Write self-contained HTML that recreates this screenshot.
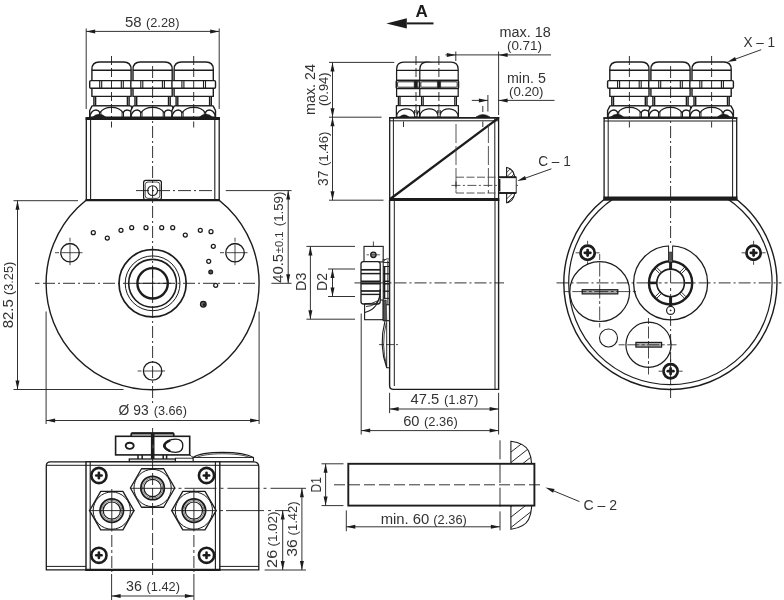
<!DOCTYPE html>
<html lang="en">
<head>
<meta charset="utf-8">
<title>Dimensional drawing</title>
<style>
html,body{margin:0;padding:0;background:#fff;}
body{width:784px;height:600px;overflow:hidden;font-family:"Liberation Sans",sans-serif;}
svg{display:block;font-family:"Liberation Sans",sans-serif;}
</style>
</head>
<body>
<svg width="784" height="600" viewBox="0 0 784 600">
<defs><filter id="soft" x="0" y="0" width="784" height="600" filterUnits="userSpaceOnUse"><feGaussianBlur stdDeviation="0.38"/></filter></defs>
<rect x="0" y="0" width="784" height="600" fill="#fff"/>
<g filter="url(#soft)">
<rect x="0" y="0" width="784" height="600" fill="#fff"/>
<circle cx="152.60" cy="283.30" r="106.50" fill="#fff" stroke="#1c1c1c" stroke-width="1.4"/>
<g transform="translate(111.50,0)" stroke="#1c1c1c" fill="#fff" stroke-width="1.4" stroke-linejoin="round">
<rect x="-17.6" y="96.3" width="35.2" height="9.6"/>
<line x1="-15.9" y1="96.3" x2="-15.9" y2="105.9"/><line x1="15.9" y1="96.3" x2="15.9" y2="105.9"/>
<rect x="-19.6" y="88.2" width="39.2" height="8.2"/>
<path d="M-19.6,80.6 V69.4 Q-19.6,62 -12.2,62 H12.2 Q19.6,62 19.6,69.4 V80.6 Z"/>
<line x1="-19.6" y1="70.2" x2="19.6" y2="70.2"/>
<rect x="-21.8" y="80.6" width="43.6" height="7.6" rx="1.2"/>
<line x1="-11.8" y1="80.6" x2="-11.8" y2="88.2" stroke-width="1.1"/>
<line x1="-9.8" y1="80.6" x2="-9.8" y2="88.2" stroke-width="1.1"/>
<line x1="9.8" y1="80.6" x2="9.8" y2="88.2" stroke-width="1.1"/>
<line x1="11.8" y1="80.6" x2="11.8" y2="88.2" stroke-width="1.1"/>
<path d="M-19.4,105.9 H19.4 L21.8,110.5 V117.2 H-21.8 V110.5 Z"/>
<path d="M-21.8,117 C-20.5,110 -14.5,108 -11.5,112.6 C-7,105.6 7,105.6 11.5,112.6 C14.5,108 20.5,110 21.8,117" fill="none"/>
<line x1="-12" y1="112.2" x2="-12" y2="117.2" stroke-width="1"/><line x1="-10.6" y1="112.2" x2="-10.6" y2="117.2" stroke-width="1"/>
<line x1="12" y1="112.2" x2="12" y2="117.2" stroke-width="1"/><line x1="10.6" y1="112.2" x2="10.6" y2="117.2" stroke-width="1"/>
</g>
<g transform="translate(152.60,0)" stroke="#1c1c1c" fill="#fff" stroke-width="1.4" stroke-linejoin="round">
<rect x="-17.6" y="96.3" width="35.2" height="9.6"/>
<line x1="-15.9" y1="96.3" x2="-15.9" y2="105.9"/><line x1="15.9" y1="96.3" x2="15.9" y2="105.9"/>
<rect x="-19.6" y="88.2" width="39.2" height="8.2"/>
<path d="M-19.6,80.6 V69.4 Q-19.6,62 -12.2,62 H12.2 Q19.6,62 19.6,69.4 V80.6 Z"/>
<line x1="-19.6" y1="70.2" x2="19.6" y2="70.2"/>
<rect x="-21.8" y="80.6" width="43.6" height="7.6" rx="1.2"/>
<line x1="-11.8" y1="80.6" x2="-11.8" y2="88.2" stroke-width="1.1"/>
<line x1="-9.8" y1="80.6" x2="-9.8" y2="88.2" stroke-width="1.1"/>
<line x1="9.8" y1="80.6" x2="9.8" y2="88.2" stroke-width="1.1"/>
<line x1="11.8" y1="80.6" x2="11.8" y2="88.2" stroke-width="1.1"/>
<path d="M-19.4,105.9 H19.4 L21.8,110.5 V117.2 H-21.8 V110.5 Z"/>
<path d="M-21.8,117 C-20.5,110 -14.5,108 -11.5,112.6 C-7,105.6 7,105.6 11.5,112.6 C14.5,108 20.5,110 21.8,117" fill="none"/>
<line x1="-12" y1="112.2" x2="-12" y2="117.2" stroke-width="1"/><line x1="-10.6" y1="112.2" x2="-10.6" y2="117.2" stroke-width="1"/>
<line x1="12" y1="112.2" x2="12" y2="117.2" stroke-width="1"/><line x1="10.6" y1="112.2" x2="10.6" y2="117.2" stroke-width="1"/>
</g>
<g transform="translate(193.70,0)" stroke="#1c1c1c" fill="#fff" stroke-width="1.4" stroke-linejoin="round">
<rect x="-17.6" y="96.3" width="35.2" height="9.6"/>
<line x1="-15.9" y1="96.3" x2="-15.9" y2="105.9"/><line x1="15.9" y1="96.3" x2="15.9" y2="105.9"/>
<rect x="-19.6" y="88.2" width="39.2" height="8.2"/>
<path d="M-19.6,80.6 V69.4 Q-19.6,62 -12.2,62 H12.2 Q19.6,62 19.6,69.4 V80.6 Z"/>
<line x1="-19.6" y1="70.2" x2="19.6" y2="70.2"/>
<rect x="-21.8" y="80.6" width="43.6" height="7.6" rx="1.2"/>
<line x1="-11.8" y1="80.6" x2="-11.8" y2="88.2" stroke-width="1.1"/>
<line x1="-9.8" y1="80.6" x2="-9.8" y2="88.2" stroke-width="1.1"/>
<line x1="9.8" y1="80.6" x2="9.8" y2="88.2" stroke-width="1.1"/>
<line x1="11.8" y1="80.6" x2="11.8" y2="88.2" stroke-width="1.1"/>
<path d="M-19.4,105.9 H19.4 L21.8,110.5 V117.2 H-21.8 V110.5 Z"/>
<path d="M-21.8,117 C-20.5,110 -14.5,108 -11.5,112.6 C-7,105.6 7,105.6 11.5,112.6 C14.5,108 20.5,110 21.8,117" fill="none"/>
<line x1="-12" y1="112.2" x2="-12" y2="117.2" stroke-width="1"/><line x1="-10.6" y1="112.2" x2="-10.6" y2="117.2" stroke-width="1"/>
<line x1="12" y1="112.2" x2="12" y2="117.2" stroke-width="1"/><line x1="10.6" y1="112.2" x2="10.6" y2="117.2" stroke-width="1"/>
</g>
<path d="M92,117.6 Q99,110.6 106.5,117.6 Z" fill="#1c1c1c" stroke="#1c1c1c" stroke-width="0.5" />
<path d="M198.7,117.6 Q206,110.6 213.2,117.6 Z" fill="#1c1c1c" stroke="#1c1c1c" stroke-width="0.5" />
<rect x="86.30" y="118.40" width="132.90" height="81.80" rx="0" fill="#fff" stroke="#1c1c1c" stroke-width="1.3"/>
<line x1="90.60" y1="118.40" x2="90.60" y2="200.20" stroke="#1c1c1c" stroke-width="1.1"/>
<line x1="214.80" y1="118.40" x2="214.80" y2="200.20" stroke="#1c1c1c" stroke-width="1.1"/>
<line x1="85.60" y1="118.60" x2="219.90" y2="118.60" stroke="#1c1c1c" stroke-width="3.0"/>
<line x1="85.60" y1="200.20" x2="219.90" y2="200.20" stroke="#1c1c1c" stroke-width="2.2"/>
<rect x="143.60" y="180.40" width="17.80" height="19.20" rx="2.2" fill="#fff" stroke="#1c1c1c" stroke-width="1.2"/>
<rect x="145.20" y="182.00" width="14.60" height="16.40" rx="2.8" fill="none" stroke="#1c1c1c" stroke-width="0.8"/>
<circle cx="152.60" cy="190.60" r="4.90" fill="none" stroke="#1c1c1c" stroke-width="1.1"/>
<line x1="136.00" y1="190.60" x2="215.00" y2="190.60" stroke="#1c1c1c" stroke-width="0.9" stroke-dasharray="13 3 2 3"/>
<line x1="111.50" y1="56.00" x2="111.50" y2="126.00" stroke="#1c1c1c" stroke-width="0.9" stroke-dasharray="9 3 9 3 9 3 9 3 9 3 3 40"/>
<line x1="193.70" y1="56.00" x2="193.70" y2="126.00" stroke="#1c1c1c" stroke-width="0.9" stroke-dasharray="9 3 9 3 9 3 9 3 9 3 3 40"/>
<line x1="152.60" y1="66.00" x2="152.60" y2="405.00" stroke="#1c1c1c" stroke-width="0.9" stroke-dasharray="12 3 2 3"/>
<line x1="111.50" y1="121.50" x2="111.50" y2="127.50" stroke="#1c1c1c" stroke-width="0.9"/>
<line x1="193.70" y1="121.50" x2="193.70" y2="127.50" stroke="#1c1c1c" stroke-width="0.9"/>
<circle cx="70.00" cy="252.70" r="9.20" fill="none" stroke="#1c1c1c" stroke-width="1.3"/>
<line x1="55.00" y1="252.70" x2="85.00" y2="252.70" stroke="#1c1c1c" stroke-width="0.8" stroke-dasharray="4 2.5 21 2.5 4"/>
<line x1="70.00" y1="237.70" x2="70.00" y2="267.70" stroke="#1c1c1c" stroke-width="0.8" stroke-dasharray="4 2.5 21 2.5 4"/>
<circle cx="235.00" cy="252.70" r="9.20" fill="none" stroke="#1c1c1c" stroke-width="1.3"/>
<line x1="220.00" y1="252.70" x2="250.00" y2="252.70" stroke="#1c1c1c" stroke-width="0.8" stroke-dasharray="4 2.5 21 2.5 4"/>
<line x1="235.00" y1="237.70" x2="235.00" y2="267.70" stroke="#1c1c1c" stroke-width="0.8" stroke-dasharray="4 2.5 21 2.5 4"/>
<circle cx="152.60" cy="371.00" r="9.20" fill="none" stroke="#1c1c1c" stroke-width="1.3"/>
<line x1="137.60" y1="371.00" x2="167.60" y2="371.00" stroke="#1c1c1c" stroke-width="0.8" stroke-dasharray="4 2.5 21 2.5 4"/>
<circle cx="93.30" cy="232.70" r="2.00" fill="none" stroke="#1c1c1c" stroke-width="1.25"/>
<circle cx="107.30" cy="238.00" r="2.00" fill="none" stroke="#1c1c1c" stroke-width="1.25"/>
<circle cx="121.00" cy="230.30" r="2.00" fill="none" stroke="#1c1c1c" stroke-width="1.25"/>
<circle cx="131.70" cy="227.70" r="2.00" fill="none" stroke="#1c1c1c" stroke-width="1.25"/>
<circle cx="146.00" cy="227.70" r="2.00" fill="none" stroke="#1c1c1c" stroke-width="1.25"/>
<circle cx="161.70" cy="227.70" r="2.00" fill="none" stroke="#1c1c1c" stroke-width="1.25"/>
<circle cx="172.70" cy="227.70" r="2.00" fill="none" stroke="#1c1c1c" stroke-width="1.25"/>
<circle cx="185.30" cy="235.00" r="2.00" fill="none" stroke="#1c1c1c" stroke-width="1.25"/>
<circle cx="200.30" cy="230.30" r="2.00" fill="none" stroke="#1c1c1c" stroke-width="1.25"/>
<circle cx="211.00" cy="231.70" r="2.00" fill="none" stroke="#1c1c1c" stroke-width="1.25"/>
<circle cx="213.30" cy="246.30" r="2.00" fill="none" stroke="#1c1c1c" stroke-width="1.25"/>
<circle cx="208.70" cy="261.30" r="2.00" fill="none" stroke="#1c1c1c" stroke-width="1.25"/>
<circle cx="215.70" cy="285.30" r="2.00" fill="none" stroke="#1c1c1c" stroke-width="1.25"/>
<circle cx="210.70" cy="272.00" r="1.90" fill="#555" stroke="#1c1c1c" stroke-width="1.2"/>
<circle cx="203.30" cy="304.30" r="2.80" fill="#777" stroke="#1c1c1c" stroke-width="1.3"/>
<circle cx="204.00" cy="304.60" r="1.30" fill="#1c1c1c" stroke="#1c1c1c" stroke-width="0.1"/>
<circle cx="152.60" cy="283.30" r="33.60" fill="none" stroke="#1c1c1c" stroke-width="1.7"/>
<circle cx="152.60" cy="283.30" r="27.40" fill="none" stroke="#1c1c1c" stroke-width="1.0"/>
<circle cx="152.60" cy="283.30" r="23.90" fill="none" stroke="#1c1c1c" stroke-width="1.6"/>
<circle cx="152.60" cy="283.30" r="15.20" fill="none" stroke="#1c1c1c" stroke-width="2.4"/>
<line x1="134.80" y1="283.30" x2="171.00" y2="283.30" stroke="#1c1c1c" stroke-width="0.9"/>
<line x1="152.60" y1="265.50" x2="152.60" y2="301.00" stroke="#1c1c1c" stroke-width="0.9"/>
<line x1="43.00" y1="283.30" x2="258.00" y2="283.30" stroke="#1c1c1c" stroke-width="0.9" stroke-dasharray="12 3 2 3"/>
<line x1="35.00" y1="283.30" x2="39.50" y2="283.30" stroke="#1c1c1c" stroke-width="0.9"/>
<line x1="86.20" y1="28.50" x2="86.20" y2="109.00" stroke="#1c1c1c" stroke-width="0.9"/>
<line x1="219.20" y1="28.50" x2="219.20" y2="109.00" stroke="#1c1c1c" stroke-width="0.9"/>
<line x1="86.20" y1="31.40" x2="219.20" y2="31.40" stroke="#1c1c1c" stroke-width="0.9"/>
<polygon points="86.20,31.40 95.20,29.40 95.20,33.40" fill="#1c1c1c"/>
<polygon points="219.20,31.40 210.20,33.40 210.20,29.40" fill="#1c1c1c"/>
<text x="125.00" y="27.00" font-size="14" textLength="16.60" lengthAdjust="spacingAndGlyphs" fill="#333333">58</text>
<text x="146.00" y="27.00" font-size="12" textLength="33.40" lengthAdjust="spacingAndGlyphs" fill="#333333">(2.28)</text>
<line x1="13.50" y1="200.70" x2="78.00" y2="200.70" stroke="#1c1c1c" stroke-width="0.9"/>
<line x1="13.50" y1="389.50" x2="123.50" y2="389.50" stroke="#1c1c1c" stroke-width="0.9"/>
<line x1="17.50" y1="200.70" x2="17.50" y2="389.50" stroke="#1c1c1c" stroke-width="0.9"/>
<polygon points="17.50,200.70 19.50,209.70 15.50,209.70" fill="#1c1c1c"/>
<polygon points="17.50,389.50 15.50,380.50 19.50,380.50" fill="#1c1c1c"/>
<text transform="translate(13.30,328.30) rotate(-90)" x="0" y="0" font-size="14" textLength="29.00" lengthAdjust="spacingAndGlyphs" fill="#333333">82.5</text>
<text transform="translate(13.30,295.00) rotate(-90)" x="0" y="0" font-size="12" textLength="33.20" lengthAdjust="spacingAndGlyphs" fill="#333333">(3.25)</text>
<line x1="46.10" y1="311.50" x2="46.10" y2="424.00" stroke="#1c1c1c" stroke-width="0.9"/>
<line x1="259.10" y1="311.50" x2="259.10" y2="424.00" stroke="#1c1c1c" stroke-width="0.9"/>
<line x1="46.10" y1="420.50" x2="259.10" y2="420.50" stroke="#1c1c1c" stroke-width="0.9"/>
<polygon points="46.10,420.50 55.10,418.50 55.10,422.50" fill="#1c1c1c"/>
<polygon points="259.10,420.50 250.10,422.50 250.10,418.50" fill="#1c1c1c"/>
<text x="118.60" y="415.00" font-size="14" textLength="30.00" lengthAdjust="spacingAndGlyphs" fill="#333333">Ø 93</text>
<text x="153.70" y="415.00" font-size="12" textLength="33.20" lengthAdjust="spacingAndGlyphs" fill="#333333">(3.66)</text>
<line x1="225.80" y1="190.60" x2="291.50" y2="190.60" stroke="#1c1c1c" stroke-width="0.9"/>
<line x1="271.40" y1="283.30" x2="291.50" y2="283.30" stroke="#1c1c1c" stroke-width="0.9"/>
<line x1="288.20" y1="190.60" x2="288.20" y2="283.30" stroke="#1c1c1c" stroke-width="0.9"/>
<polygon points="288.20,190.60 290.20,199.60 286.20,199.60" fill="#1c1c1c"/>
<polygon points="288.20,283.30 286.20,274.30 290.20,274.30" fill="#1c1c1c"/>
<text transform="translate(283.00,282.80) rotate(-90)" x="0" y="0" font-size="14" textLength="28.80" lengthAdjust="spacingAndGlyphs" fill="#333333">40.5</text>
<text transform="translate(283.00,253.20) rotate(-90)" x="0" y="0" font-size="10" textLength="21.70" lengthAdjust="spacingAndGlyphs" fill="#333333">±0.1</text>
<text transform="translate(283.00,226.20) rotate(-90)" x="0" y="0" font-size="12" textLength="34.60" lengthAdjust="spacingAndGlyphs" fill="#333333">(1.59)</text>
<g transform="translate(415.80,0)" stroke="#1c1c1c" fill="#fff" stroke-width="1.25" stroke-linejoin="round">
<rect x="-17.4" y="96.3" width="34.8" height="9.4"/>
<line x1="-15.8" y1="96.3" x2="-15.8" y2="105.7"/><line x1="15.8" y1="96.3" x2="15.8" y2="105.7"/>
<rect x="-19.2" y="88.4" width="38.4" height="8.0"/>
<path d="M-19.2,80.4 V69.4 Q-19.2,62.2 -12,62.2 H12 Q19.2,62.2 19.2,69.4 V80.4 Z"/>
<line x1="-19.2" y1="70.3" x2="19.2" y2="70.3"/>
<rect x="-19.5" y="80.4" width="39" height="8.2" rx="1" stroke-width="1.5"/>
<rect x="-18.2" y="81.8" width="36.4" height="5.4" rx="1" stroke-width="0.9"/>
<rect x="-1.6" y="81.4" width="3.2" height="6.2" fill="#1c1c1c" stroke-width="0.6"/>
<path d="M-19.4,105.7 H19.4 V117.2 H-19.4 Z"/>
<path d="M-19.4,117 C-18.5,106.5 -3,106.5 -1.2,114.5 M1.2,114.5 C3,106.5 18.5,106.5 19.4,117" fill="none"/>
<line x1="-1.2" y1="110" x2="-1.2" y2="117.2" stroke-width="1"/><line x1="1.2" y1="110" x2="1.2" y2="117.2" stroke-width="1"/>
</g>
<g transform="translate(439.00,0)" stroke="#1c1c1c" fill="#fff" stroke-width="1.25" stroke-linejoin="round">
<rect x="-17.4" y="96.3" width="34.8" height="9.4"/>
<line x1="-15.8" y1="96.3" x2="-15.8" y2="105.7"/><line x1="15.8" y1="96.3" x2="15.8" y2="105.7"/>
<rect x="-19.2" y="88.4" width="38.4" height="8.0"/>
<path d="M-19.2,80.4 V69.4 Q-19.2,62.2 -12,62.2 H12 Q19.2,62.2 19.2,69.4 V80.4 Z"/>
<line x1="-19.2" y1="70.3" x2="19.2" y2="70.3"/>
<rect x="-19.5" y="80.4" width="39" height="8.2" rx="1" stroke-width="1.5"/>
<rect x="-18.2" y="81.8" width="36.4" height="5.4" rx="1" stroke-width="0.9"/>
<rect x="-1.6" y="81.4" width="3.2" height="6.2" fill="#1c1c1c" stroke-width="0.6"/>
<path d="M-19.4,105.7 H19.4 V117.2 H-19.4 Z"/>
<path d="M-19.4,117 C-18.5,106.5 -3,106.5 -1.2,114.5 M1.2,114.5 C3,106.5 18.5,106.5 19.4,117" fill="none"/>
<line x1="-1.2" y1="110" x2="-1.2" y2="117.2" stroke-width="1"/><line x1="1.2" y1="110" x2="1.2" y2="117.2" stroke-width="1"/>
</g>
<line x1="416.00" y1="56.00" x2="416.00" y2="126.00" stroke="#1c1c1c" stroke-width="0.9" stroke-dasharray="9 3 9 3 9 3 9 3 9 3 3 40"/>
<line x1="438.90" y1="56.00" x2="438.90" y2="126.00" stroke="#1c1c1c" stroke-width="0.9" stroke-dasharray="9 3 9 3 9 3 9 3 9 3 3 40"/>
<path d="M399.5,117 Q404,112.6 409,117 Z" fill="#1c1c1c" stroke="#1c1c1c" stroke-width="0.5" />
<path d="M476,117 Q482.8,111.8 490,117 Z" fill="#1c1c1c" stroke="#1c1c1c" stroke-width="0.5" />
<rect x="389.70" y="117.80" width="108.90" height="81.60" rx="0" fill="#fff" stroke="#1c1c1c" stroke-width="1.3"/>
<line x1="389.70" y1="120.80" x2="498.60" y2="120.80" stroke="#1c1c1c" stroke-width="1.0"/>
<line x1="393.40" y1="117.80" x2="393.40" y2="199.40" stroke="#1c1c1c" stroke-width="1.0"/>
<line x1="494.80" y1="117.80" x2="494.80" y2="199.40" stroke="#1c1c1c" stroke-width="1.0"/>
<line x1="389.00" y1="117.80" x2="499.30" y2="117.80" stroke="#1c1c1c" stroke-width="1.6"/>
<line x1="390.20" y1="199.00" x2="498.00" y2="118.30" stroke="#1c1c1c" stroke-width="2.3"/>
<line x1="456.00" y1="124.00" x2="456.00" y2="193.00" stroke="#444" stroke-width="0.9" stroke-dasharray="19 3"/>
<line x1="488.40" y1="124.00" x2="488.40" y2="193.00" stroke="#444" stroke-width="0.9" stroke-dasharray="19 3"/>
<line x1="456.00" y1="177.20" x2="497.00" y2="177.20" stroke="#444" stroke-width="0.9" stroke-dasharray="8 2.5"/>
<line x1="456.00" y1="193.00" x2="497.00" y2="193.00" stroke="#444" stroke-width="0.9" stroke-dasharray="8 2.5"/>
<line x1="451.40" y1="185.40" x2="518.00" y2="185.40" stroke="#444" stroke-width="0.9" stroke-dasharray="9 2.5 2 2.5"/>
<line x1="456.00" y1="181.50" x2="456.00" y2="189.50" stroke="#1c1c1c" stroke-width="0.9"/>
<line x1="403.50" y1="121.50" x2="403.50" y2="127.00" stroke="#1c1c1c" stroke-width="0.9"/>
<line x1="482.80" y1="106.00" x2="482.80" y2="112.00" stroke="#1c1c1c" stroke-width="0.9"/>
<line x1="482.80" y1="121.50" x2="482.80" y2="127.00" stroke="#1c1c1c" stroke-width="0.9"/>
<clipPath id="h1"><path d="M506.6,177.2 V167.5 Q513.4,168.6 514.8,177.2 Z"/></clipPath>
<clipPath id="h2"><path d="M506.6,193 V202.8 Q513.4,201.6 514.8,193 Z"/></clipPath>
<g clip-path="url(#h1)" stroke="#1c1c1c" stroke-width="0.85">
<line x1="403.2" y1="210" x2="449.2" y2="164"/>
<line x1="407.6" y1="210" x2="453.6" y2="164"/>
<line x1="412.0" y1="210" x2="458.0" y2="164"/>
<line x1="416.4" y1="210" x2="462.4" y2="164"/>
<line x1="420.8" y1="210" x2="466.8" y2="164"/>
<line x1="425.2" y1="210" x2="471.2" y2="164"/>
<line x1="429.6" y1="210" x2="475.6" y2="164"/>
<line x1="434.0" y1="210" x2="480.0" y2="164"/>
<line x1="438.4" y1="210" x2="484.4" y2="164"/>
<line x1="442.8" y1="210" x2="488.8" y2="164"/>
<line x1="447.2" y1="210" x2="493.2" y2="164"/>
<line x1="451.6" y1="210" x2="497.6" y2="164"/>
<line x1="456.0" y1="210" x2="502.0" y2="164"/>
<line x1="460.4" y1="210" x2="506.4" y2="164"/>
<line x1="464.8" y1="210" x2="510.8" y2="164"/>
<line x1="469.2" y1="210" x2="515.2" y2="164"/>
<line x1="473.6" y1="210" x2="519.6" y2="164"/>
<line x1="478.0" y1="210" x2="524.0" y2="164"/>
<line x1="482.4" y1="210" x2="528.4" y2="164"/>
<line x1="486.8" y1="210" x2="532.8" y2="164"/>
<line x1="491.2" y1="210" x2="537.2" y2="164"/>
<line x1="495.6" y1="210" x2="541.6" y2="164"/>
<line x1="500.0" y1="210" x2="546.0" y2="164"/>
<line x1="504.4" y1="210" x2="550.4" y2="164"/>
<line x1="508.8" y1="210" x2="554.8" y2="164"/>
<line x1="513.2" y1="210" x2="559.2" y2="164"/>
<line x1="517.6" y1="210" x2="563.6" y2="164"/>
<line x1="522.0" y1="210" x2="568.0" y2="164"/>
<line x1="526.4" y1="210" x2="572.4" y2="164"/>
<line x1="530.8" y1="210" x2="576.8" y2="164"/>
<line x1="535.2" y1="210" x2="581.2" y2="164"/>
<line x1="539.6" y1="210" x2="585.6" y2="164"/>
<line x1="544.0" y1="210" x2="590.0" y2="164"/>
<line x1="548.4" y1="210" x2="594.4" y2="164"/>
</g>
<g clip-path="url(#h2)" stroke="#1c1c1c" stroke-width="0.85">
<line x1="403.2" y1="210" x2="449.2" y2="164"/>
<line x1="407.6" y1="210" x2="453.6" y2="164"/>
<line x1="412.0" y1="210" x2="458.0" y2="164"/>
<line x1="416.4" y1="210" x2="462.4" y2="164"/>
<line x1="420.8" y1="210" x2="466.8" y2="164"/>
<line x1="425.2" y1="210" x2="471.2" y2="164"/>
<line x1="429.6" y1="210" x2="475.6" y2="164"/>
<line x1="434.0" y1="210" x2="480.0" y2="164"/>
<line x1="438.4" y1="210" x2="484.4" y2="164"/>
<line x1="442.8" y1="210" x2="488.8" y2="164"/>
<line x1="447.2" y1="210" x2="493.2" y2="164"/>
<line x1="451.6" y1="210" x2="497.6" y2="164"/>
<line x1="456.0" y1="210" x2="502.0" y2="164"/>
<line x1="460.4" y1="210" x2="506.4" y2="164"/>
<line x1="464.8" y1="210" x2="510.8" y2="164"/>
<line x1="469.2" y1="210" x2="515.2" y2="164"/>
<line x1="473.6" y1="210" x2="519.6" y2="164"/>
<line x1="478.0" y1="210" x2="524.0" y2="164"/>
<line x1="482.4" y1="210" x2="528.4" y2="164"/>
<line x1="486.8" y1="210" x2="532.8" y2="164"/>
<line x1="491.2" y1="210" x2="537.2" y2="164"/>
<line x1="495.6" y1="210" x2="541.6" y2="164"/>
<line x1="500.0" y1="210" x2="546.0" y2="164"/>
<line x1="504.4" y1="210" x2="550.4" y2="164"/>
<line x1="508.8" y1="210" x2="554.8" y2="164"/>
<line x1="513.2" y1="210" x2="559.2" y2="164"/>
<line x1="517.6" y1="210" x2="563.6" y2="164"/>
<line x1="522.0" y1="210" x2="568.0" y2="164"/>
<line x1="526.4" y1="210" x2="572.4" y2="164"/>
<line x1="530.8" y1="210" x2="576.8" y2="164"/>
<line x1="535.2" y1="210" x2="581.2" y2="164"/>
<line x1="539.6" y1="210" x2="585.6" y2="164"/>
<line x1="544.0" y1="210" x2="590.0" y2="164"/>
<line x1="548.4" y1="210" x2="594.4" y2="164"/>
</g>
<path d="M506.6,177.2 V167.5 Q513.4,168.6 514.8,177.2" fill="none" stroke="#1c1c1c" stroke-width="1.1" />
<path d="M506.6,193 V202.8 Q513.4,201.6 514.8,193" fill="none" stroke="#1c1c1c" stroke-width="1.1" />
<rect x="498.60" y="177.20" width="17.60" height="15.80" rx="0" fill="#fff" stroke="#1c1c1c" stroke-width="0.9"/>
<line x1="498.60" y1="177.20" x2="516.20" y2="177.20" stroke="#1c1c1c" stroke-width="1.9"/>
<line x1="498.60" y1="193.00" x2="516.20" y2="193.00" stroke="#1c1c1c" stroke-width="1.9"/>
<line x1="499.60" y1="179.00" x2="499.60" y2="191.50" stroke="#1c1c1c" stroke-width="1.6"/>
<line x1="551.40" y1="168.80" x2="522.00" y2="179.30" stroke="#1c1c1c" stroke-width="0.9"/>
<polygon points="517.20,181.00 525.00,176.08 526.35,179.85" fill="#1c1c1c"/>
<text x="538.20" y="165.70" font-size="14" textLength="32.60" lengthAdjust="spacingAndGlyphs" fill="#333333">C – 1</text>
<path d="M389.6,200 V385.5 Q389.6,389.4 393.6,389.4 H498.6 V200" fill="#fff" stroke="#1c1c1c" stroke-width="1.4" />
<line x1="394.30" y1="200.00" x2="394.30" y2="386.00" stroke="#1c1c1c" stroke-width="1.0"/>
<line x1="495.00" y1="200.00" x2="495.00" y2="389.40" stroke="#1c1c1c" stroke-width="1.0"/>
<line x1="389.00" y1="199.60" x2="499.30" y2="199.60" stroke="#1c1c1c" stroke-width="3.0"/>
<line x1="354.50" y1="282.90" x2="504.00" y2="282.90" stroke="#1c1c1c" stroke-width="0.9" stroke-dasharray="12 3 2 3"/>
<rect x="364.00" y="246.40" width="19.20" height="15.50" rx="0" fill="#fff" stroke="#1c1c1c" stroke-width="1.1"/>
<circle cx="373.40" cy="254.80" r="2.70" fill="#999" stroke="#1c1c1c" stroke-width="1.3"/>
<line x1="366.50" y1="254.80" x2="380.50" y2="254.80" stroke="#1c1c1c" stroke-width="0.7" stroke-dasharray="2.5 2 9 2 2.5"/>
<line x1="373.40" y1="241.50" x2="373.40" y2="246.00" stroke="#1c1c1c" stroke-width="0.8"/>
<rect x="364.60" y="300.00" width="18.60" height="19.70" rx="0" fill="#fff" stroke="#1c1c1c" stroke-width="1.1"/>
<rect x="361.00" y="261.60" width="19.20" height="42.40" rx="2.5" fill="#fff" stroke="#1c1c1c" stroke-width="1.3"/>
<line x1="361.00" y1="269.80" x2="380.20" y2="269.80" stroke="#1c1c1c" stroke-width="1.7"/>
<line x1="361.00" y1="273.60" x2="380.20" y2="273.60" stroke="#1c1c1c" stroke-width="1.5"/>
<line x1="361.00" y1="281.30" x2="380.20" y2="281.30" stroke="#1c1c1c" stroke-width="1.6"/>
<line x1="361.00" y1="283.60" x2="380.20" y2="283.60" stroke="#1c1c1c" stroke-width="1.8"/>
<line x1="361.00" y1="291.00" x2="380.20" y2="291.00" stroke="#1c1c1c" stroke-width="1.7"/>
<line x1="361.00" y1="294.40" x2="380.20" y2="294.40" stroke="#1c1c1c" stroke-width="1.4"/>
<line x1="362.00" y1="282.50" x2="380.00" y2="282.50" stroke="#555" stroke-width="1.0"/>
<path d="M380.2,289 Q380,309 364.8,312.5" fill="none" stroke="#1c1c1c" stroke-width="1.1" />
<path d="M380.2,296 Q378,306 366,306.5" fill="none" stroke="#1c1c1c" stroke-width="0.9" />
<path d="M364.6,303.6 Q372,304.6 378.5,300.5" fill="none" stroke="#1c1c1c" stroke-width="0.9" />
<rect x="383.20" y="259.70" width="6.20" height="61.00" rx="0" fill="#fff" stroke="#1c1c1c" stroke-width="1.0"/>
<path d="M383.2,262.5 Q385.5,257.5 389.4,259.2 V262.5 Z" fill="#fff" stroke="#1c1c1c" stroke-width="0.9" />
<line x1="384.40" y1="266.00" x2="384.40" y2="298.50" stroke="#1c1c1c" stroke-width="1.8"/>
<line x1="387.90" y1="260.50" x2="387.90" y2="305.00" stroke="#1c1c1c" stroke-width="1.0"/>
<line x1="383.20" y1="266.50" x2="389.40" y2="266.50" stroke="#1c1c1c" stroke-width="1.0"/>
<line x1="383.20" y1="273.80" x2="389.40" y2="273.80" stroke="#1c1c1c" stroke-width="1.3"/>
<line x1="383.20" y1="281.30" x2="389.40" y2="281.30" stroke="#1c1c1c" stroke-width="1.5"/>
<line x1="383.20" y1="283.80" x2="389.40" y2="283.80" stroke="#1c1c1c" stroke-width="1.5"/>
<line x1="383.20" y1="291.20" x2="389.40" y2="291.20" stroke="#1c1c1c" stroke-width="1.3"/>
<line x1="383.20" y1="298.40" x2="389.40" y2="298.40" stroke="#1c1c1c" stroke-width="1.0"/>
<line x1="383.20" y1="304.80" x2="389.40" y2="304.80" stroke="#1c1c1c" stroke-width="1.0"/>
<path d="M383.4,300 H386.2 L386.8,320.4 H383.4 Z" fill="#555" stroke="#1c1c1c" stroke-width="0.6" />
<path d="M385,320.8 Q378.6,345 386.7,367.8 H389.5 V320.8 Z" fill="#fff" stroke="#1c1c1c" stroke-width="1.1" />
<path d="M386.2,323 Q380.8,345 386.7,366" fill="none" stroke="#1c1c1c" stroke-width="0.8" />
<line x1="386.70" y1="320.80" x2="386.70" y2="367.80" stroke="#1c1c1c" stroke-width="0.9"/>
<line x1="379.00" y1="344.60" x2="398.00" y2="344.60" stroke="#1c1c1c" stroke-width="0.8" stroke-dasharray="5 2 8 2 5"/>
<line x1="407.00" y1="23.40" x2="433.50" y2="23.40" stroke="#1c1c1c" stroke-width="2.0"/>
<polygon points="386.30,23.40 406.80,18.20 406.80,28.60" fill="#1c1c1c"/>
<text x="415.40" y="16.90" font-size="16.5" textLength="12.30" lengthAdjust="spacingAndGlyphs" font-weight="bold" fill="#1a1a1a">A</text>
<line x1="329.00" y1="62.40" x2="394.30" y2="62.40" stroke="#1c1c1c" stroke-width="0.9"/>
<line x1="329.00" y1="117.20" x2="381.60" y2="117.20" stroke="#1c1c1c" stroke-width="0.9"/>
<line x1="332.50" y1="62.40" x2="332.50" y2="117.20" stroke="#1c1c1c" stroke-width="0.9"/>
<polygon points="332.50,62.40 334.50,71.40 330.50,71.40" fill="#1c1c1c"/>
<polygon points="332.50,117.20 330.50,108.20 334.50,108.20" fill="#1c1c1c"/>
<text transform="translate(315.00,115.00) rotate(-90)" x="0" y="0" font-size="14" textLength="51.00" lengthAdjust="spacingAndGlyphs" fill="#333333">max. 24</text>
<text transform="translate(328.00,106.00) rotate(-90)" x="0" y="0" font-size="12" textLength="33.40" lengthAdjust="spacingAndGlyphs" fill="#333333">(0.94)</text>
<line x1="329.00" y1="200.20" x2="383.50" y2="200.20" stroke="#1c1c1c" stroke-width="0.9"/>
<line x1="332.50" y1="117.20" x2="332.50" y2="200.20" stroke="#1c1c1c" stroke-width="0.9"/>
<polygon points="332.50,117.20 334.50,126.20 330.50,126.20" fill="#1c1c1c"/>
<polygon points="332.50,200.20 330.50,191.20 334.50,191.20" fill="#1c1c1c"/>
<text transform="translate(327.80,185.90) rotate(-90)" x="0" y="0" font-size="14" textLength="15.40" lengthAdjust="spacingAndGlyphs" fill="#333333">37</text>
<text transform="translate(327.80,166.10) rotate(-90)" x="0" y="0" font-size="12" textLength="34.50" lengthAdjust="spacingAndGlyphs" fill="#333333">(1.46)</text>
<line x1="455.80" y1="51.50" x2="455.80" y2="61.00" stroke="#1c1c1c" stroke-width="0.9"/>
<line x1="498.60" y1="51.50" x2="498.60" y2="115.00" stroke="#1c1c1c" stroke-width="0.9"/>
<line x1="445.40" y1="54.90" x2="551.00" y2="54.90" stroke="#1c1c1c" stroke-width="0.9"/>
<polygon points="455.80,54.90 446.80,56.90 446.80,52.90" fill="#1c1c1c"/>
<polygon points="498.60,54.90 507.60,52.90 507.60,56.90" fill="#1c1c1c"/>
<text x="499.60" y="36.60" font-size="14" textLength="51.30" lengthAdjust="spacingAndGlyphs" fill="#333333">max. 18</text>
<text x="506.90" y="50.20" font-size="12" textLength="35.20" lengthAdjust="spacingAndGlyphs" fill="#333333">(0.71)</text>
<line x1="487.90" y1="95.00" x2="487.90" y2="111.50" stroke="#1c1c1c" stroke-width="0.9"/>
<line x1="471.80" y1="100.40" x2="487.90" y2="100.40" stroke="#1c1c1c" stroke-width="0.9"/>
<line x1="498.60" y1="100.40" x2="554.50" y2="100.40" stroke="#1c1c1c" stroke-width="0.9"/>
<polygon points="487.90,100.40 478.90,102.40 478.90,98.40" fill="#1c1c1c"/>
<polygon points="498.60,100.40 507.60,98.40 507.60,102.40" fill="#1c1c1c"/>
<text x="507.00" y="82.50" font-size="14" textLength="38.80" lengthAdjust="spacingAndGlyphs" fill="#333333">min. 5</text>
<text x="509.00" y="96.20" font-size="12" textLength="34.50" lengthAdjust="spacingAndGlyphs" fill="#333333">(0.20)</text>
<line x1="306.40" y1="246.40" x2="355.00" y2="246.40" stroke="#1c1c1c" stroke-width="0.9"/>
<line x1="306.40" y1="319.20" x2="355.00" y2="319.20" stroke="#1c1c1c" stroke-width="0.9"/>
<line x1="310.40" y1="246.40" x2="310.40" y2="319.20" stroke="#1c1c1c" stroke-width="0.9"/>
<polygon points="310.40,246.40 312.40,255.40 308.40,255.40" fill="#1c1c1c"/>
<polygon points="310.40,319.20 308.40,310.20 312.40,310.20" fill="#1c1c1c"/>
<line x1="328.00" y1="269.00" x2="355.00" y2="269.00" stroke="#1c1c1c" stroke-width="0.9"/>
<line x1="328.00" y1="296.50" x2="355.00" y2="296.50" stroke="#1c1c1c" stroke-width="0.9"/>
<line x1="332.50" y1="269.00" x2="332.50" y2="296.50" stroke="#1c1c1c" stroke-width="0.9"/>
<polygon points="332.50,269.00 334.50,278.00 330.50,278.00" fill="#1c1c1c"/>
<polygon points="332.50,296.50 330.50,287.50 334.50,287.50" fill="#1c1c1c"/>
<text transform="translate(305.60,290.90) rotate(-90)" x="0" y="0" font-size="14" textLength="18.40" lengthAdjust="spacingAndGlyphs" fill="#333333">D3</text>
<text transform="translate(327.40,290.90) rotate(-90)" x="0" y="0" font-size="14" textLength="17.90" lengthAdjust="spacingAndGlyphs" fill="#333333">D2</text>
<line x1="389.60" y1="392.80" x2="389.60" y2="413.20" stroke="#1c1c1c" stroke-width="0.9"/>
<line x1="498.60" y1="392.80" x2="498.60" y2="434.50" stroke="#1c1c1c" stroke-width="0.9"/>
<line x1="389.60" y1="409.00" x2="498.60" y2="409.00" stroke="#1c1c1c" stroke-width="0.9"/>
<polygon points="389.60,409.00 398.60,407.00 398.60,411.00" fill="#1c1c1c"/>
<polygon points="498.60,409.00 489.60,411.00 489.60,407.00" fill="#1c1c1c"/>
<text x="410.60" y="403.80" font-size="14" textLength="28.70" lengthAdjust="spacingAndGlyphs" fill="#333333">47.5</text>
<text x="444.00" y="403.80" font-size="12" textLength="34.30" lengthAdjust="spacingAndGlyphs" fill="#333333">(1.87)</text>
<line x1="361.20" y1="313.50" x2="361.20" y2="434.50" stroke="#1c1c1c" stroke-width="0.9"/>
<line x1="361.20" y1="430.60" x2="498.60" y2="430.60" stroke="#1c1c1c" stroke-width="0.9"/>
<polygon points="361.20,430.60 370.20,428.60 370.20,432.60" fill="#1c1c1c"/>
<polygon points="498.60,430.60 489.60,432.60 489.60,428.60" fill="#1c1c1c"/>
<text x="403.20" y="426.00" font-size="14" textLength="16.30" lengthAdjust="spacingAndGlyphs" fill="#333333">60</text>
<text x="424.00" y="426.00" font-size="12" textLength="33.70" lengthAdjust="spacingAndGlyphs" fill="#333333">(2.36)</text>
<circle cx="670.40" cy="282.90" r="106.60" fill="#fff" stroke="#1c1c1c" stroke-width="1.4"/>
<circle cx="670.40" cy="282.90" r="101.70" fill="none" stroke="#1c1c1c" stroke-width="1.2"/>
<g transform="translate(629.40,0)" stroke="#1c1c1c" fill="#fff" stroke-width="1.4" stroke-linejoin="round">
<rect x="-17.6" y="96.3" width="35.2" height="9.6"/>
<line x1="-15.9" y1="96.3" x2="-15.9" y2="105.9"/><line x1="15.9" y1="96.3" x2="15.9" y2="105.9"/>
<rect x="-19.6" y="88.2" width="39.2" height="8.2"/>
<path d="M-19.6,80.6 V69.4 Q-19.6,62 -12.2,62 H12.2 Q19.6,62 19.6,69.4 V80.6 Z"/>
<line x1="-19.6" y1="70.2" x2="19.6" y2="70.2"/>
<rect x="-21.8" y="80.6" width="43.6" height="7.6" rx="1.2"/>
<line x1="-11.8" y1="80.6" x2="-11.8" y2="88.2" stroke-width="1.1"/>
<line x1="-9.8" y1="80.6" x2="-9.8" y2="88.2" stroke-width="1.1"/>
<line x1="9.8" y1="80.6" x2="9.8" y2="88.2" stroke-width="1.1"/>
<line x1="11.8" y1="80.6" x2="11.8" y2="88.2" stroke-width="1.1"/>
<path d="M-19.4,105.9 H19.4 L21.8,110.5 V117.2 H-21.8 V110.5 Z"/>
<path d="M-21.8,117 C-20.5,110 -14.5,108 -11.5,112.6 C-7,105.6 7,105.6 11.5,112.6 C14.5,108 20.5,110 21.8,117" fill="none"/>
<line x1="-12" y1="112.2" x2="-12" y2="117.2" stroke-width="1"/><line x1="-10.6" y1="112.2" x2="-10.6" y2="117.2" stroke-width="1"/>
<line x1="12" y1="112.2" x2="12" y2="117.2" stroke-width="1"/><line x1="10.6" y1="112.2" x2="10.6" y2="117.2" stroke-width="1"/>
</g>
<g transform="translate(670.50,0)" stroke="#1c1c1c" fill="#fff" stroke-width="1.4" stroke-linejoin="round">
<rect x="-17.6" y="96.3" width="35.2" height="9.6"/>
<line x1="-15.9" y1="96.3" x2="-15.9" y2="105.9"/><line x1="15.9" y1="96.3" x2="15.9" y2="105.9"/>
<rect x="-19.6" y="88.2" width="39.2" height="8.2"/>
<path d="M-19.6,80.6 V69.4 Q-19.6,62 -12.2,62 H12.2 Q19.6,62 19.6,69.4 V80.6 Z"/>
<line x1="-19.6" y1="70.2" x2="19.6" y2="70.2"/>
<rect x="-21.8" y="80.6" width="43.6" height="7.6" rx="1.2"/>
<line x1="-11.8" y1="80.6" x2="-11.8" y2="88.2" stroke-width="1.1"/>
<line x1="-9.8" y1="80.6" x2="-9.8" y2="88.2" stroke-width="1.1"/>
<line x1="9.8" y1="80.6" x2="9.8" y2="88.2" stroke-width="1.1"/>
<line x1="11.8" y1="80.6" x2="11.8" y2="88.2" stroke-width="1.1"/>
<path d="M-19.4,105.9 H19.4 L21.8,110.5 V117.2 H-21.8 V110.5 Z"/>
<path d="M-21.8,117 C-20.5,110 -14.5,108 -11.5,112.6 C-7,105.6 7,105.6 11.5,112.6 C14.5,108 20.5,110 21.8,117" fill="none"/>
<line x1="-12" y1="112.2" x2="-12" y2="117.2" stroke-width="1"/><line x1="-10.6" y1="112.2" x2="-10.6" y2="117.2" stroke-width="1"/>
<line x1="12" y1="112.2" x2="12" y2="117.2" stroke-width="1"/><line x1="10.6" y1="112.2" x2="10.6" y2="117.2" stroke-width="1"/>
</g>
<g transform="translate(711.60,0)" stroke="#1c1c1c" fill="#fff" stroke-width="1.4" stroke-linejoin="round">
<rect x="-17.6" y="96.3" width="35.2" height="9.6"/>
<line x1="-15.9" y1="96.3" x2="-15.9" y2="105.9"/><line x1="15.9" y1="96.3" x2="15.9" y2="105.9"/>
<rect x="-19.6" y="88.2" width="39.2" height="8.2"/>
<path d="M-19.6,80.6 V69.4 Q-19.6,62 -12.2,62 H12.2 Q19.6,62 19.6,69.4 V80.6 Z"/>
<line x1="-19.6" y1="70.2" x2="19.6" y2="70.2"/>
<rect x="-21.8" y="80.6" width="43.6" height="7.6" rx="1.2"/>
<line x1="-11.8" y1="80.6" x2="-11.8" y2="88.2" stroke-width="1.1"/>
<line x1="-9.8" y1="80.6" x2="-9.8" y2="88.2" stroke-width="1.1"/>
<line x1="9.8" y1="80.6" x2="9.8" y2="88.2" stroke-width="1.1"/>
<line x1="11.8" y1="80.6" x2="11.8" y2="88.2" stroke-width="1.1"/>
<path d="M-19.4,105.9 H19.4 L21.8,110.5 V117.2 H-21.8 V110.5 Z"/>
<path d="M-21.8,117 C-20.5,110 -14.5,108 -11.5,112.6 C-7,105.6 7,105.6 11.5,112.6 C14.5,108 20.5,110 21.8,117" fill="none"/>
<line x1="-12" y1="112.2" x2="-12" y2="117.2" stroke-width="1"/><line x1="-10.6" y1="112.2" x2="-10.6" y2="117.2" stroke-width="1"/>
<line x1="12" y1="112.2" x2="12" y2="117.2" stroke-width="1"/><line x1="10.6" y1="112.2" x2="10.6" y2="117.2" stroke-width="1"/>
</g>
<path d="M610,117.6 Q617,110.6 624.5,117.6 Z" fill="#1c1c1c" stroke="#1c1c1c" stroke-width="0.5" />
<path d="M716.5,117.6 Q724,110.6 731,117.6 Z" fill="#1c1c1c" stroke="#1c1c1c" stroke-width="0.5" />
<rect x="604.10" y="118.10" width="132.60" height="80.50" rx="0" fill="#fff" stroke="#1c1c1c" stroke-width="1.3"/>
<line x1="604.10" y1="121.00" x2="736.70" y2="121.00" stroke="#1c1c1c" stroke-width="1.0"/>
<line x1="608.20" y1="118.10" x2="608.20" y2="198.40" stroke="#1c1c1c" stroke-width="1.0"/>
<line x1="732.60" y1="118.10" x2="732.60" y2="198.40" stroke="#1c1c1c" stroke-width="1.0"/>
<line x1="603.40" y1="118.10" x2="737.40" y2="118.10" stroke="#1c1c1c" stroke-width="1.5"/>
<line x1="603.40" y1="198.60" x2="737.40" y2="198.60" stroke="#1c1c1c" stroke-width="4.2"/>
<line x1="629.40" y1="56.00" x2="629.40" y2="126.00" stroke="#1c1c1c" stroke-width="0.9" stroke-dasharray="9 3 9 3 9 3 9 3 9 3 3 40"/>
<line x1="711.60" y1="56.00" x2="711.60" y2="126.00" stroke="#1c1c1c" stroke-width="0.9" stroke-dasharray="9 3 9 3 9 3 9 3 9 3 3 40"/>
<circle cx="670.60" cy="282.90" r="37.00" fill="#fff" stroke="#1c1c1c" stroke-width="1.3"/>
<circle cx="670.60" cy="282.90" r="21.60" fill="none" stroke="#1c1c1c" stroke-width="2.4"/>
<circle cx="670.60" cy="282.90" r="13.80" fill="none" stroke="#1c1c1c" stroke-width="1.6"/>
<line x1="681.42" y1="292.16" x2="686.09" y2="296.83" stroke="#1c1c1c" stroke-width="0.9"/>
<line x1="679.86" y1="293.72" x2="684.53" y2="298.39" stroke="#1c1c1c" stroke-width="0.9"/>
<line x1="661.34" y1="293.72" x2="656.67" y2="298.39" stroke="#1c1c1c" stroke-width="0.9"/>
<line x1="659.78" y1="292.16" x2="655.11" y2="296.83" stroke="#1c1c1c" stroke-width="0.9"/>
<line x1="659.78" y1="273.64" x2="655.11" y2="268.97" stroke="#1c1c1c" stroke-width="0.9"/>
<line x1="661.34" y1="272.08" x2="656.67" y2="267.41" stroke="#1c1c1c" stroke-width="0.9"/>
<line x1="679.86" y1="272.08" x2="684.53" y2="267.41" stroke="#1c1c1c" stroke-width="0.9"/>
<line x1="681.42" y1="273.64" x2="686.09" y2="268.97" stroke="#1c1c1c" stroke-width="0.9"/>
<line x1="649.60" y1="282.90" x2="656.80" y2="282.90" stroke="#1c1c1c" stroke-width="2.6"/>
<line x1="684.40" y1="282.90" x2="691.60" y2="282.90" stroke="#555" stroke-width="1.8"/>
<rect x="668.60" y="245.40" width="4.00" height="16.60" rx="0" fill="#fff" stroke="#1c1c1c" stroke-width="1.0"/>
<line x1="668.60" y1="245.20" x2="672.60" y2="245.20" stroke="#fff" stroke-width="1.6"/>
<rect x="669.40" y="252.00" width="2.40" height="8.50" rx="0" fill="#555" stroke="#1c1c1c" stroke-width="0.5"/>
<line x1="670.60" y1="261.50" x2="670.60" y2="269.20" stroke="#1c1c1c" stroke-width="3.0"/>
<line x1="670.60" y1="296.40" x2="670.60" y2="306.80" stroke="#1c1c1c" stroke-width="3.0"/>
<circle cx="670.60" cy="310.40" r="4.00" fill="#fff" stroke="#1c1c1c" stroke-width="1.2"/>
<circle cx="670.60" cy="310.40" r="0.70" fill="#1c1c1c" stroke="#1c1c1c" stroke-width="0.3"/>
<circle cx="599.70" cy="291.60" r="29.90" fill="#fff" stroke="#1c1c1c" stroke-width="1.2"/>
<rect x="582.20" y="289.70" width="35.60" height="4.20" rx="0" fill="#aaa" stroke="#1c1c1c" stroke-width="1.2"/>
<circle cx="648.50" cy="344.80" r="22.60" fill="#fff" stroke="#1c1c1c" stroke-width="1.2"/>
<rect x="635.90" y="342.40" width="25.70" height="4.70" rx="0" fill="#aaa" stroke="#1c1c1c" stroke-width="1.2"/>
<circle cx="608.50" cy="338.00" r="9.00" fill="#fff" stroke="#1c1c1c" stroke-width="1.1"/>
<circle cx="587.60" cy="252.80" r="7.10" fill="#fff" stroke="#1c1c1c" stroke-width="2.7"/>
<line x1="584.80" y1="252.80" x2="590.40" y2="252.80" stroke="#1c1c1c" stroke-width="2.7" stroke-linecap="round"/>
<line x1="587.60" y1="250.00" x2="587.60" y2="255.60" stroke="#1c1c1c" stroke-width="2.7" stroke-linecap="round"/>
<line x1="575.60" y1="252.80" x2="599.60" y2="252.80" stroke="#1c1c1c" stroke-width="0.8" stroke-dasharray="3.5 17 3.5"/>
<line x1="587.60" y1="240.80" x2="587.60" y2="264.80" stroke="#1c1c1c" stroke-width="0.8" stroke-dasharray="3.5 17 3.5"/>
<circle cx="753.60" cy="252.80" r="7.10" fill="#fff" stroke="#1c1c1c" stroke-width="2.7"/>
<line x1="750.80" y1="252.80" x2="756.40" y2="252.80" stroke="#1c1c1c" stroke-width="2.7" stroke-linecap="round"/>
<line x1="753.60" y1="250.00" x2="753.60" y2="255.60" stroke="#1c1c1c" stroke-width="2.7" stroke-linecap="round"/>
<line x1="741.60" y1="252.80" x2="765.60" y2="252.80" stroke="#1c1c1c" stroke-width="0.8" stroke-dasharray="3.5 17 3.5"/>
<line x1="753.60" y1="240.80" x2="753.60" y2="264.80" stroke="#1c1c1c" stroke-width="0.8" stroke-dasharray="3.5 17 3.5"/>
<circle cx="670.60" cy="371.20" r="7.10" fill="#fff" stroke="#1c1c1c" stroke-width="2.7"/>
<line x1="667.80" y1="371.20" x2="673.40" y2="371.20" stroke="#1c1c1c" stroke-width="2.7" stroke-linecap="round"/>
<line x1="670.60" y1="368.40" x2="670.60" y2="374.00" stroke="#1c1c1c" stroke-width="2.7" stroke-linecap="round"/>
<line x1="658.60" y1="371.20" x2="682.60" y2="371.20" stroke="#1c1c1c" stroke-width="0.8" stroke-dasharray="3.5 17 3.5"/>
<line x1="670.60" y1="359.20" x2="670.60" y2="383.20" stroke="#1c1c1c" stroke-width="0.8" stroke-dasharray="3.5 17 3.5"/>
<line x1="563.80" y1="291.60" x2="636.00" y2="291.60" stroke="#1c1c1c" stroke-width="0.8" stroke-dasharray="6 2.5 14 2.5 3 2.5 14 2.5 3 2.5 14 2.5"/>
<line x1="599.70" y1="254.00" x2="599.70" y2="327.50" stroke="#1c1c1c" stroke-width="0.8" stroke-dasharray="6 2.5 14 2.5 3 2.5 14 2.5 3 2.5 14 2.5"/>
<line x1="618.70" y1="344.80" x2="676.50" y2="344.80" stroke="#1c1c1c" stroke-width="0.8" stroke-dasharray="6 2.5 12 2.5 3 2.5 12 2.5 3 2.5 12"/>
<line x1="648.50" y1="318.00" x2="648.50" y2="374.50" stroke="#1c1c1c" stroke-width="0.8" stroke-dasharray="6 2.5 12 2.5 3 2.5 12 2.5 3 2.5 12"/>
<line x1="670.60" y1="66.00" x2="670.60" y2="244.00" stroke="#1c1c1c" stroke-width="0.9" stroke-dasharray="12 3 2 3"/>
<line x1="629.40" y1="121.50" x2="629.40" y2="127.50" stroke="#1c1c1c" stroke-width="0.9"/>
<line x1="711.60" y1="121.50" x2="711.60" y2="127.50" stroke="#1c1c1c" stroke-width="0.9"/>
<line x1="670.60" y1="270.50" x2="670.60" y2="282.90" stroke="#1c1c1c" stroke-width="0.9"/>
<line x1="670.60" y1="288.00" x2="670.60" y2="296.00" stroke="#1c1c1c" stroke-width="0.9" stroke-dasharray="3 3"/>
<line x1="670.60" y1="316.00" x2="670.60" y2="398.00" stroke="#1c1c1c" stroke-width="0.9" stroke-dasharray="10 3 2 3"/>
<line x1="556.50" y1="282.90" x2="648.60" y2="282.90" stroke="#1c1c1c" stroke-width="0.9" stroke-dasharray="12 3 2 3"/>
<line x1="658.60" y1="282.90" x2="667.60" y2="282.90" stroke="#1c1c1c" stroke-width="0.9" stroke-dasharray="3 3"/>
<line x1="670.60" y1="282.90" x2="691.60" y2="282.90" stroke="#1c1c1c" stroke-width="0.9"/>
<line x1="692.60" y1="282.90" x2="781.50" y2="282.90" stroke="#1c1c1c" stroke-width="0.9" stroke-dasharray="3 3 12 3 2 3 12 3 2 3 12 3 2 3 12 3 2 3 12 3 2 3 12 3 2 3"/>
<line x1="761.20" y1="49.70" x2="732.00" y2="60.30" stroke="#1c1c1c" stroke-width="0.9"/>
<polygon points="727.30,62.00 735.08,57.06 736.44,60.82" fill="#1c1c1c"/>
<text x="743.40" y="46.70" font-size="14" textLength="31.70" lengthAdjust="spacingAndGlyphs" fill="#333333">X – 1</text>
<path d="M193,457.5 C203,450.6 241,450.6 253.5,457.5 V461.8 H193 Z" fill="#fff" stroke="#1c1c1c" stroke-width="1.1" />
<path d="M196.5,457.5 C206,452.5 239,452.5 250,457.5" fill="none" stroke="#1c1c1c" stroke-width="0.8" />
<line x1="193.00" y1="457.50" x2="253.50" y2="457.50" stroke="#1c1c1c" stroke-width="0.9"/>
<rect x="175.40" y="458.20" width="17.60" height="3.40" rx="0" fill="#fff" stroke="#1c1c1c" stroke-width="0.9"/>
<path d="M189.5,454.7 Q191.5,456.8 193.4,457.3" fill="none" stroke="#1c1c1c" stroke-width="0.9" />
<path d="M46.3,569.8 V465.8 Q46.3,461.8 50.3,461.8 H253.8 Q258.8,461.8 258.8,466.8 V569.8 Z" fill="#fff" stroke="#1c1c1c" stroke-width="1.3" />
<line x1="46.30" y1="465.30" x2="258.80" y2="465.30" stroke="#1c1c1c" stroke-width="1.0"/>
<line x1="46.30" y1="566.40" x2="86.00" y2="566.40" stroke="#1c1c1c" stroke-width="1.0"/>
<line x1="219.80" y1="566.40" x2="258.80" y2="566.40" stroke="#1c1c1c" stroke-width="1.0"/>
<rect x="86.00" y="461.80" width="133.80" height="108.00" rx="0" fill="#fff" stroke="#1c1c1c" stroke-width="1.4"/>
<line x1="90.20" y1="461.80" x2="90.20" y2="569.80" stroke="#1c1c1c" stroke-width="1.1"/>
<line x1="215.40" y1="461.80" x2="215.40" y2="569.80" stroke="#1c1c1c" stroke-width="1.1"/>
<line x1="86.00" y1="465.30" x2="219.80" y2="465.30" stroke="#1c1c1c" stroke-width="1.0"/>
<line x1="85.30" y1="569.80" x2="220.50" y2="569.80" stroke="#1c1c1c" stroke-width="2.2"/>
<path d="M131.2,436 V434.2 Q131.2,433.2 132.4,433.2 H172.6 Q173.8,433.2 173.8,434.2 V436" fill="#fff" stroke="#1c1c1c" stroke-width="1.7" />
<line x1="131.50" y1="433.60" x2="173.50" y2="433.60" stroke="#1c1c1c" stroke-width="2.0"/>
<rect x="115.60" y="436.30" width="74.10" height="18.60" rx="0" fill="#fff" stroke="#1c1c1c" stroke-width="1.6"/>
<ellipse cx="129.7" cy="445.8" rx="4.0" ry="3.1" fill="#fff" stroke="#1c1c1c" stroke-width="1.9"/>
<path d="M163.6,445.7 C163.6,442.6 170,439.2 175.5,439.2 C180.5,439.2 182.8,442 182.8,445.8 C182.8,449.6 180.5,452.4 175.5,452.4 C170,452.4 163.6,448.8 163.6,445.7 Z" fill="#fff" stroke="#1c1c1c" stroke-width="1.3" />
<path d="M164.6,445.7 C164.6,443.4 167.6,441.4 170.2,440.4 M164.6,445.7 C164.6,448 167.6,450 170.2,451.2" fill="none" stroke="#1c1c1c" stroke-width="2.4" />
<line x1="152.70" y1="433.40" x2="152.70" y2="461.20" stroke="#1c1c1c" stroke-width="3.6"/>
<line x1="152.70" y1="444.60" x2="152.70" y2="448.20" stroke="#ddd" stroke-width="1.0"/>
<line x1="138.00" y1="454.90" x2="138.00" y2="459.20" stroke="#1c1c1c" stroke-width="1.5"/>
<line x1="142.20" y1="454.90" x2="142.20" y2="459.20" stroke="#1c1c1c" stroke-width="1.5"/>
<line x1="163.20" y1="454.90" x2="163.20" y2="459.20" stroke="#1c1c1c" stroke-width="1.5"/>
<line x1="166.60" y1="454.90" x2="166.60" y2="459.20" stroke="#1c1c1c" stroke-width="1.5"/>
<rect x="129.30" y="459.00" width="46.10" height="2.50" rx="0" fill="#fff" stroke="#1c1c1c" stroke-width="1.3"/>
<polygon points="174.80,488.00 163.70,507.23 141.50,507.23 130.40,488.00 141.50,468.77 163.70,468.77" fill="#fff" stroke="#1c1c1c" stroke-width="1.3" stroke-linejoin="round"/>
<circle cx="152.60" cy="488.00" r="18.63" fill="none" stroke="#1c1c1c" stroke-width="1.0"/>
<circle cx="152.60" cy="488.00" r="11.70" fill="none" stroke="#1c1c1c" stroke-width="1.8"/>
<circle cx="152.60" cy="488.00" r="8.60" fill="none" stroke="#1c1c1c" stroke-width="1.2"/>
<circle cx="152.60" cy="488.00" r="10.10" fill="none" stroke="#1c1c1c" stroke-width="0.6"/>
<polygon points="134.00,510.60 122.90,529.83 100.70,529.83 89.60,510.60 100.70,491.37 122.90,491.37" fill="#fff" stroke="#1c1c1c" stroke-width="1.3" stroke-linejoin="round"/>
<circle cx="111.80" cy="510.60" r="18.63" fill="none" stroke="#1c1c1c" stroke-width="1.0"/>
<circle cx="111.80" cy="510.60" r="11.70" fill="none" stroke="#1c1c1c" stroke-width="1.8"/>
<circle cx="111.80" cy="510.60" r="8.60" fill="none" stroke="#1c1c1c" stroke-width="1.2"/>
<circle cx="111.80" cy="510.60" r="10.10" fill="none" stroke="#1c1c1c" stroke-width="0.6"/>
<polygon points="216.10,510.60 205.00,529.83 182.80,529.83 171.70,510.60 182.80,491.37 205.00,491.37" fill="#fff" stroke="#1c1c1c" stroke-width="1.3" stroke-linejoin="round"/>
<circle cx="193.90" cy="510.60" r="18.63" fill="none" stroke="#1c1c1c" stroke-width="1.0"/>
<circle cx="193.90" cy="510.60" r="11.70" fill="none" stroke="#1c1c1c" stroke-width="1.8"/>
<circle cx="193.90" cy="510.60" r="8.60" fill="none" stroke="#1c1c1c" stroke-width="1.2"/>
<circle cx="193.90" cy="510.60" r="10.10" fill="none" stroke="#1c1c1c" stroke-width="0.6"/>
<circle cx="98.90" cy="475.50" r="7.60" fill="#fff" stroke="#1c1c1c" stroke-width="2.6"/>
<line x1="96.20" y1="475.50" x2="101.60" y2="475.50" stroke="#1c1c1c" stroke-width="2.6" stroke-linecap="round"/>
<line x1="98.90" y1="472.80" x2="98.90" y2="478.20" stroke="#1c1c1c" stroke-width="2.6" stroke-linecap="round"/>
<circle cx="206.50" cy="475.50" r="7.60" fill="#fff" stroke="#1c1c1c" stroke-width="2.6"/>
<line x1="203.80" y1="475.50" x2="209.20" y2="475.50" stroke="#1c1c1c" stroke-width="2.6" stroke-linecap="round"/>
<line x1="206.50" y1="472.80" x2="206.50" y2="478.20" stroke="#1c1c1c" stroke-width="2.6" stroke-linecap="round"/>
<circle cx="98.90" cy="555.30" r="7.60" fill="#fff" stroke="#1c1c1c" stroke-width="2.6"/>
<line x1="96.20" y1="555.30" x2="101.60" y2="555.30" stroke="#1c1c1c" stroke-width="2.6" stroke-linecap="round"/>
<line x1="98.90" y1="552.60" x2="98.90" y2="558.00" stroke="#1c1c1c" stroke-width="2.6" stroke-linecap="round"/>
<circle cx="206.50" cy="555.30" r="7.60" fill="#fff" stroke="#1c1c1c" stroke-width="2.6"/>
<line x1="203.80" y1="555.30" x2="209.20" y2="555.30" stroke="#1c1c1c" stroke-width="2.6" stroke-linecap="round"/>
<line x1="206.50" y1="552.60" x2="206.50" y2="558.00" stroke="#1c1c1c" stroke-width="2.6" stroke-linecap="round"/>
<line x1="152.60" y1="428.00" x2="152.60" y2="577.50" stroke="#1c1c1c" stroke-width="0.9" stroke-dasharray="12 3"/>
<line x1="111.80" y1="489.00" x2="111.80" y2="531.50" stroke="#1c1c1c" stroke-width="0.9"/>
<line x1="111.80" y1="535.00" x2="111.80" y2="572.00" stroke="#1c1c1c" stroke-width="0.9" stroke-dasharray="12 3 3 3"/>
<line x1="88.80" y1="510.60" x2="134.80" y2="510.60" stroke="#1c1c1c" stroke-width="0.9"/>
<line x1="193.90" y1="489.00" x2="193.90" y2="531.50" stroke="#1c1c1c" stroke-width="0.9"/>
<line x1="193.90" y1="535.00" x2="193.90" y2="572.00" stroke="#1c1c1c" stroke-width="0.9" stroke-dasharray="12 3 3 3"/>
<line x1="170.90" y1="510.60" x2="216.90" y2="510.60" stroke="#1c1c1c" stroke-width="0.9"/>
<line x1="130.00" y1="488.30" x2="175.50" y2="488.30" stroke="#1c1c1c" stroke-width="0.9"/>
<line x1="178.50" y1="488.30" x2="306.00" y2="488.30" stroke="#1c1c1c" stroke-width="0.9" stroke-dasharray="3 3 32 4 3 4 32 4 3 4 42 4"/>
<line x1="220.00" y1="510.60" x2="289.00" y2="510.60" stroke="#1c1c1c" stroke-width="0.9" stroke-dasharray="3 3 38 4 3 4 30"/>
<line x1="264.60" y1="570.00" x2="306.00" y2="570.00" stroke="#1c1c1c" stroke-width="0.9"/>
<line x1="282.70" y1="510.60" x2="282.70" y2="570.00" stroke="#1c1c1c" stroke-width="0.9"/>
<polygon points="282.70,510.60 284.70,519.60 280.70,519.60" fill="#1c1c1c"/>
<polygon points="282.70,570.00 280.70,561.00 284.70,561.00" fill="#1c1c1c"/>
<line x1="301.90" y1="488.30" x2="301.90" y2="570.00" stroke="#1c1c1c" stroke-width="0.9"/>
<polygon points="301.90,488.30 303.90,497.30 299.90,497.30" fill="#1c1c1c"/>
<polygon points="301.90,570.00 299.90,561.00 303.90,561.00" fill="#1c1c1c"/>
<text transform="translate(277.40,567.90) rotate(-90)" x="0" y="0" font-size="14" textLength="18.10" lengthAdjust="spacingAndGlyphs" fill="#333333">26</text>
<text transform="translate(277.40,546.60) rotate(-90)" x="0" y="0" font-size="12" textLength="35.20" lengthAdjust="spacingAndGlyphs" fill="#333333">(1.02)</text>
<text transform="translate(297.00,556.70) rotate(-90)" x="0" y="0" font-size="14" textLength="17.60" lengthAdjust="spacingAndGlyphs" fill="#333333">36</text>
<text transform="translate(297.00,535.40) rotate(-90)" x="0" y="0" font-size="12" textLength="34.10" lengthAdjust="spacingAndGlyphs" fill="#333333">(1.42)</text>
<line x1="111.60" y1="574.00" x2="111.60" y2="600.00" stroke="#1c1c1c" stroke-width="0.9"/>
<line x1="193.90" y1="574.00" x2="193.90" y2="600.00" stroke="#1c1c1c" stroke-width="0.9"/>
<line x1="111.60" y1="596.00" x2="193.90" y2="596.00" stroke="#1c1c1c" stroke-width="0.9"/>
<polygon points="111.60,596.00 120.60,594.00 120.60,598.00" fill="#1c1c1c"/>
<polygon points="193.90,596.00 184.90,598.00 184.90,594.00" fill="#1c1c1c"/>
<text x="126.00" y="591.40" font-size="14" textLength="15.80" lengthAdjust="spacingAndGlyphs" fill="#333333">36</text>
<text x="146.60" y="591.40" font-size="12" textLength="33.40" lengthAdjust="spacingAndGlyphs" fill="#333333">(1.42)</text>
<clipPath id="h3"><path d="M510.9,463.8 V441.3 C519,442.4 526,445.8 528.6,451 C530.6,455 531.5,459 531.6,463.8 Z"/></clipPath>
<clipPath id="h4"><path d="M510.9,505.6 V529.3 C519,528.2 526,524.8 528.6,519.6 C530.6,515.6 531.5,511.6 531.6,505.6 Z"/></clipPath>
<g clip-path="url(#h3)" stroke="#1c1c1c" stroke-width="0.95">
<line x1="505" y1="425.60" x2="540" y2="397.95"/>
<line x1="505" y1="436.00" x2="540" y2="408.35"/>
<line x1="505" y1="446.40" x2="540" y2="418.75"/>
<line x1="505" y1="456.80" x2="540" y2="429.15"/>
<line x1="505" y1="467.20" x2="540" y2="439.55"/>
<line x1="505" y1="477.60" x2="540" y2="449.95"/>
<line x1="505" y1="488.00" x2="540" y2="460.35"/>
<line x1="505" y1="498.40" x2="540" y2="470.75"/>
</g>
<g clip-path="url(#h4)" stroke="#1c1c1c" stroke-width="0.95">
<line x1="505" y1="490.60" x2="540" y2="462.95"/>
<line x1="505" y1="501.00" x2="540" y2="473.35"/>
<line x1="505" y1="511.40" x2="540" y2="483.75"/>
<line x1="505" y1="521.80" x2="540" y2="494.15"/>
<line x1="505" y1="532.20" x2="540" y2="504.55"/>
<line x1="505" y1="542.60" x2="540" y2="514.95"/>
<line x1="505" y1="553.00" x2="540" y2="525.35"/>
<line x1="505" y1="563.40" x2="540" y2="535.75"/>
</g>
<path d="M510.9,463.8 V441.3 C519,442.4 526,445.8 528.6,451 C530.6,455 531.5,459 531.6,463.8" fill="none" stroke="#1c1c1c" stroke-width="1.1" />
<path d="M510.9,505.6 V529.3 C519,528.2 526,524.8 528.6,519.6 C530.6,515.6 531.5,511.6 531.6,505.6" fill="none" stroke="#1c1c1c" stroke-width="1.1" />
<rect x="348.30" y="463.80" width="186.10" height="41.80" rx="0" fill="#fff" stroke="#1c1c1c" stroke-width="1.9"/>
<line x1="334.00" y1="484.80" x2="542.00" y2="484.80" stroke="#1c1c1c" stroke-width="0.9" stroke-dasharray="11 4"/>
<line x1="500.00" y1="440.30" x2="500.00" y2="530.50" stroke="#1c1c1c" stroke-width="0.9" stroke-dasharray="19 4.7"/>
<line x1="321.50" y1="463.80" x2="343.50" y2="463.80" stroke="#1c1c1c" stroke-width="0.9"/>
<line x1="321.50" y1="505.60" x2="343.50" y2="505.60" stroke="#1c1c1c" stroke-width="0.9"/>
<line x1="325.60" y1="463.80" x2="325.60" y2="505.60" stroke="#1c1c1c" stroke-width="0.9"/>
<polygon points="325.60,463.80 327.60,472.80 323.60,472.80" fill="#1c1c1c"/>
<polygon points="325.60,505.60 323.60,496.60 327.60,496.60" fill="#1c1c1c"/>
<text transform="translate(320.80,492.40) rotate(-90)" x="0" y="0" font-size="14" textLength="15.20" lengthAdjust="spacingAndGlyphs" fill="#333333">D1</text>
<line x1="346.30" y1="510.40" x2="346.30" y2="531.20" stroke="#1c1c1c" stroke-width="0.9"/>
<line x1="346.30" y1="526.80" x2="499.90" y2="526.80" stroke="#1c1c1c" stroke-width="0.9"/>
<polygon points="346.30,526.80 355.30,524.80 355.30,528.80" fill="#1c1c1c"/>
<polygon points="499.90,526.80 490.90,528.80 490.90,524.80" fill="#1c1c1c"/>
<text x="380.70" y="524.10" font-size="14" textLength="48.70" lengthAdjust="spacingAndGlyphs" fill="#333333">min. 60</text>
<text x="433.30" y="524.10" font-size="12" textLength="33.50" lengthAdjust="spacingAndGlyphs" fill="#333333">(2.36)</text>
<line x1="579.50" y1="501.60" x2="550.00" y2="489.40" stroke="#1c1c1c" stroke-width="0.9"/>
<polygon points="545.50,487.50 554.58,489.10 553.05,492.79" fill="#1c1c1c"/>
<text x="583.40" y="509.60" font-size="14" textLength="33.60" lengthAdjust="spacingAndGlyphs" fill="#333333">C – 2</text>
</g>
</svg>
</body>
</html>
